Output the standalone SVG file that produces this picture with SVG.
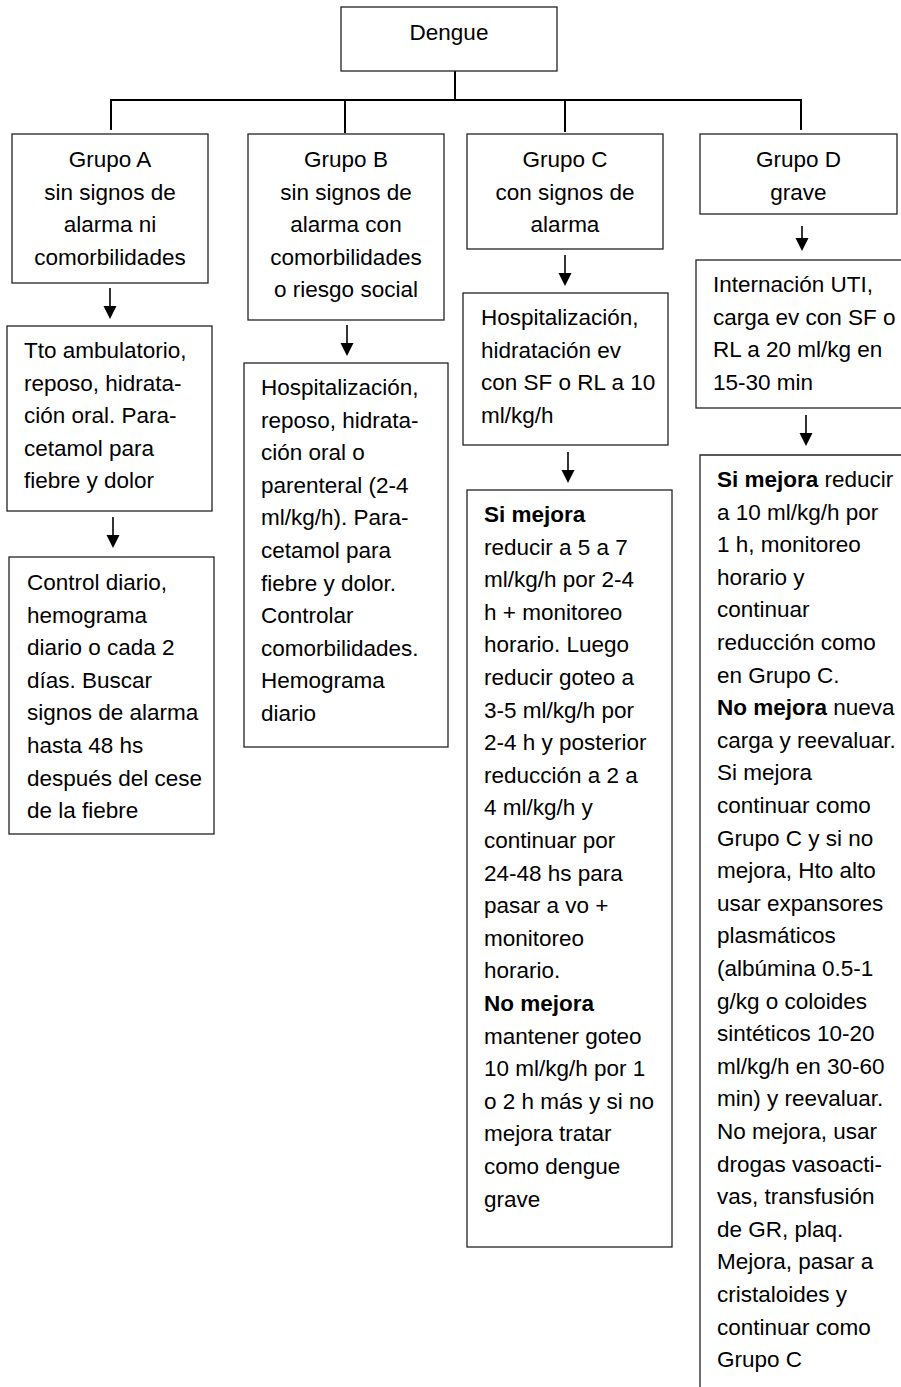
<svg xmlns="http://www.w3.org/2000/svg" width="901" height="1387" viewBox="0 0 901 1387">
<style>
text{font-family:"Liberation Sans",Arial,sans-serif;font-size:22.5px;fill:#000}
.c{text-anchor:middle}
.b{font-weight:bold}
.box{fill:#fff;stroke:#222;stroke-width:1.3}
.ln{stroke:#000;stroke-width:2;fill:none}
.ar{stroke:#000;stroke-width:1.6;fill:none;marker-end:url(#ah)}
</style>
<defs>
<marker id="ah" markerUnits="userSpaceOnUse" markerWidth="14" markerHeight="14" refX="7" refY="13" orient="auto-start-reverse" viewBox="0 0 14 14">
<path d="M0.5,0 L13.5,0 L7,13 Z" fill="#000" transform="rotate(-90 7 7)"/>
</marker>
</defs>
<rect width="901" height="1387" fill="#fff"/>
<g id="connectors">
<path class="ln" d="M455,71 V100 M111,100 H801 M111,99 V130 M345,99 V133 M565,99 V132 M801,99 V130"/>
<g fill="#000" stroke="#000" stroke-width="1.6">
<line x1="110" y1="288" x2="110" y2="308"/><polygon points="103.5,306 116.5,306 110,319" stroke="none"/>
<line x1="113" y1="517" x2="113" y2="537"/><polygon points="106.5,535 119.5,535 113,548" stroke="none"/>
<line x1="347" y1="325" x2="347" y2="345"/><polygon points="340.5,343 353.5,343 347,356" stroke="none"/>
<line x1="565" y1="255" x2="565" y2="275"/><polygon points="558.5,273 571.5,273 565,286" stroke="none"/>
<line x1="568" y1="452" x2="568" y2="472"/><polygon points="561.5,470 574.5,470 568,483" stroke="none"/>
<line x1="802" y1="226" x2="802" y2="240"/><polygon points="795.5,238 808.5,238 802,251" stroke="none"/>
<line x1="806" y1="415" x2="806" y2="435"/><polygon points="799.5,433 812.5,433 806,446" stroke="none"/>
</g>
</g>
<g id="dengue">
<rect class="box" x="341" y="7" width="216" height="64"/>
<text class="c" x="449" y="40">Dengue</text>
</g>
<g id="grupoA">
<rect class="box" x="12" y="134" width="196" height="149"/>
<text class="c" x="110" y="167">Grupo A</text>
<text class="c" x="110" y="199.5">sin signos de</text>
<text class="c" x="110" y="232">alarma ni</text>
<text class="c" x="110" y="264.5">comorbilidades</text>
</g>
<g id="grupoB">
<rect class="box" x="248" y="134" width="196" height="186"/>
<text class="c" x="346" y="167">Grupo B</text>
<text class="c" x="346" y="199.5">sin signos de</text>
<text class="c" x="346" y="232">alarma con</text>
<text class="c" x="346" y="264.5">comorbilidades</text>
<text class="c" x="346" y="297">o riesgo social</text>
</g>
<g id="grupoC">
<rect class="box" x="467" y="134" width="196" height="115"/>
<text class="c" x="565" y="167">Grupo C</text>
<text class="c" x="565" y="199.5">con signos de</text>
<text class="c" x="565" y="232">alarma</text>
</g>
<g id="grupoD">
<rect class="box" x="700" y="134" width="197" height="80"/>
<text class="c" x="798.5" y="167">Grupo D</text>
<text class="c" x="798.5" y="199.5">grave</text>
</g>
<g id="tratA">
<rect class="box" x="7" y="326" width="205" height="185"/>
<text x="24" y="358">Tto ambulatorio,</text>
<text x="24" y="390.6">reposo, hidrata-</text>
<text x="24" y="423.2">ción oral. Para-</text>
<text x="24" y="455.8">cetamol para</text>
<text x="24" y="488.4">fiebre y dolor</text>
</g>
<g id="controlA">
<rect class="box" x="9" y="557" width="205" height="277"/>
<text x="27" y="590">Control diario,</text>
<text x="27" y="622.6">hemograma</text>
<text x="27" y="655.2">diario o cada 2</text>
<text x="27" y="687.8">días. Buscar</text>
<text x="27" y="720.4">signos de alarma</text>
<text x="27" y="753">hasta 48 hs</text>
<text x="27" y="785.6">después del cese</text>
<text x="27" y="818.2">de la fiebre</text>
</g>
<g id="tratB">
<rect class="box" x="244" y="363" width="204" height="384"/>
<text x="261" y="395">Hospitalización,</text>
<text x="261" y="427.6">reposo, hidrata-</text>
<text x="261" y="460.2">ción oral o</text>
<text x="261" y="492.8">parenteral (2-4</text>
<text x="261" y="525.4">ml/kg/h). Para-</text>
<text x="261" y="558">cetamol para</text>
<text x="261" y="590.6">fiebre y dolor.</text>
<text x="261" y="623.2">Controlar</text>
<text x="261" y="655.8">comorbilidades.</text>
<text x="261" y="688.4">Hemograma</text>
<text x="261" y="721">diario</text>
</g>
<g id="hospC">
<rect class="box" x="463" y="293" width="205" height="152"/>
<text x="481" y="325">Hospitalización,</text>
<text x="481" y="357.6">hidratación  ev</text>
<text x="481" y="390.2">con SF o RL a 10</text>
<text x="481" y="422.8">ml/kg/h</text>
</g>
<g id="evolC">
<rect class="box" x="467" y="490" width="205" height="757"/>
<text x="484" y="522" class="b">Si mejora</text>
<text x="484" y="554.6">reducir a 5 a 7</text>
<text x="484" y="587.2">ml/kg/h por 2-4</text>
<text x="484" y="619.8">h + monitoreo</text>
<text x="484" y="652.4">horario. Luego</text>
<text x="484" y="685">reducir goteo a</text>
<text x="484" y="717.6">3-5 ml/kg/h por</text>
<text x="484" y="750.2">2-4 h y posterior</text>
<text x="484" y="782.8">reducción a 2 a</text>
<text x="484" y="815.4">4 ml/kg/h y</text>
<text x="484" y="848">continuar por</text>
<text x="484" y="880.6">24-48 hs para</text>
<text x="484" y="913.2">pasar a vo +</text>
<text x="484" y="945.8">monitoreo</text>
<text x="484" y="978.4">horario.</text>
<text x="484" y="1011" class="b">No mejora</text>
<text x="484" y="1043.6">mantener goteo</text>
<text x="484" y="1076.2">10 ml/kg/h por 1</text>
<text x="484" y="1108.8">o 2 h más y si no</text>
<text x="484" y="1141.4">mejora tratar</text>
<text x="484" y="1174">como dengue</text>
<text x="484" y="1206.6">grave</text>
</g>
<g id="internD">
<rect class="box" x="696" y="260" width="210" height="148"/>
<text x="713" y="292">Internación UTI,</text>
<text x="713" y="324.6">carga  ev con SF o</text>
<text x="713" y="357.2">RL a 20 ml/kg en</text>
<text x="713" y="389.8">15-30 min</text>
</g>
<g id="evolD">
<path class="box" d="M906,455 H700 V1392" fill="#fff"/>
<text x="717" y="487"><tspan class="b">Si mejora</tspan> reducir</text>
<text x="717" y="519.6">a 10 ml/kg/h por</text>
<text x="717" y="552.2">1 h, monitoreo</text>
<text x="717" y="584.8">horario y</text>
<text x="717" y="617.4">continuar</text>
<text x="717" y="650">reducción como</text>
<text x="717" y="682.6">en Grupo C.</text>
<text x="717" y="715.2"><tspan class="b">No mejora</tspan> nueva</text>
<text x="717" y="747.8">carga y reevaluar.</text>
<text x="717" y="780.4">Si mejora</text>
<text x="717" y="813">continuar como</text>
<text x="717" y="845.6">Grupo C y si no</text>
<text x="717" y="878.2">mejora, Hto alto</text>
<text x="717" y="910.8">usar expansores</text>
<text x="717" y="943.4">plasmáticos</text>
<text x="717" y="976">(albúmina 0.5-1</text>
<text x="717" y="1008.6">g/kg o coloides</text>
<text x="717" y="1041.2">sintéticos 10-20</text>
<text x="717" y="1073.8">ml/kg/h en 30-60</text>
<text x="717" y="1106.4">min) y reevaluar.</text>
<text x="717" y="1139">No mejora, usar</text>
<text x="717" y="1171.6">drogas vasoacti-</text>
<text x="717" y="1204.2">vas, transfusión</text>
<text x="717" y="1236.8">de GR, plaq.</text>
<text x="717" y="1269.4">Mejora, pasar a</text>
<text x="717" y="1302">cristaloides y</text>
<text x="717" y="1334.6">continuar como</text>
<text x="717" y="1367.2">Grupo C</text>
</g>
</svg>
